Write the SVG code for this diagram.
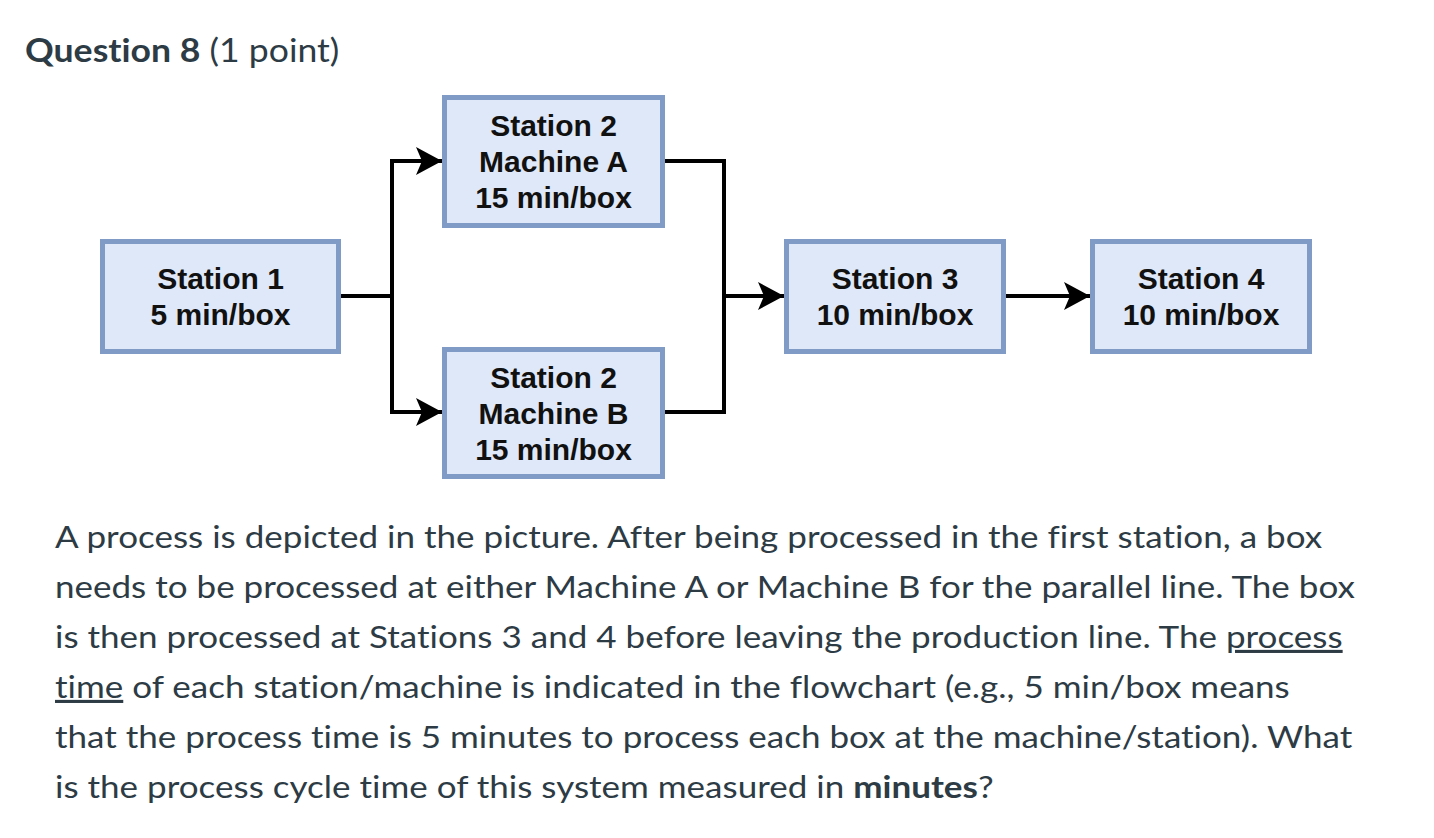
<svg xmlns="http://www.w3.org/2000/svg" width="1434" height="838" viewBox="0 0 1434 838">
<defs>
<style>
.box{fill:#dfe8f8;stroke:#7f9bc6;stroke-width:5}
.lbl{font-family:"Liberation Sans",Arial,sans-serif;font-weight:bold;font-size:30px;fill:#111;text-anchor:middle}
.con{fill:none;stroke:#000;stroke-width:4}
.body{font-family:Lato,"Open Sans",sans-serif;font-size:31px;fill:#2d3b45;font-variant-ligatures:none}
.title{font-family:Lato,"Open Sans",sans-serif;font-size:32px;fill:#2d3b45;font-variant-ligatures:none}
</style>
<marker id="arr" markerUnits="userSpaceOnUse" markerWidth="32" markerHeight="32" viewBox="-28 -16 32 32" refX="0" refY="0" orient="auto">
<path d="M0,0 L-26,-14 L-20,0 L-26,14 Z" fill="#000"/>
</marker>
</defs>
<rect width="1434" height="838" fill="#fff"/>
<g transform="translate(25,0) scale(1.113,1)">
<text class="title" x="0" y="62"><tspan font-weight="bold">Question 8</tspan> (1 point)</text>
</g>
<g id="connectors">
<path class="con" d="M341,296 H392"/>
<path class="con" d="M392,161 V412"/>
<path class="con" d="M390,161 H442" marker-end="url(#arr)"/>
<path class="con" d="M390,412 H442" marker-end="url(#arr)"/>
<path class="con" d="M665,161 H724 V412 H665"/>
<path class="con" d="M724,296 H784" marker-end="url(#arr)"/>
<path class="con" d="M1006,296 H1090" marker-end="url(#arr)"/>
</g>
<g id="station1">
<rect class="box" x="102.5" y="241.5" width="236" height="110"/>
<text class="lbl" x="220.5" y="289">Station 1</text>
<text class="lbl" x="220.5" y="325">5 min/box</text>
</g>
<g id="machineA">
<rect class="box" x="444.5" y="97.5" width="218" height="128"/>
<text class="lbl" x="553.5" y="136">Station 2</text>
<text class="lbl" x="553.5" y="172">Machine A</text>
<text class="lbl" x="553.5" y="208">15 min/box</text>
</g>
<g id="machineB">
<rect class="box" x="444.5" y="349.5" width="218" height="127"/>
<text class="lbl" x="553.5" y="388">Station 2</text>
<text class="lbl" x="553.5" y="424">Machine B</text>
<text class="lbl" x="553.5" y="460">15 min/box</text>
</g>
<g id="station3">
<rect class="box" x="786.5" y="241.5" width="217" height="110"/>
<text class="lbl" x="895" y="289">Station 3</text>
<text class="lbl" x="895" y="325">10 min/box</text>
</g>
<g id="station4">
<rect class="box" x="1092.5" y="241.5" width="217" height="110"/>
<text class="lbl" x="1201" y="289">Station 4</text>
<text class="lbl" x="1201" y="325">10 min/box</text>
</g>
<g id="question" transform="translate(55,0) scale(1.13,1)">
<text class="body" x="0" y="548">A process is depicted in the picture. After being processed in the first station, a box</text>
<text class="body" x="0" y="598">needs to be processed at either Machine A or Machine B for the parallel line. The box</text>
<text class="body" x="0" y="648">is then processed at Stations 3 and 4 before leaving the production line. The <tspan text-decoration="underline">process</tspan></text>
<text class="body" x="0" y="698"><tspan text-decoration="underline">time</tspan> of each station/machine is indicated in the flowchart (e.g., 5 min/box means</text>
<text class="body" x="0" y="748">that the process time is 5 minutes to process each box at the machine/station). What</text>
<text class="body" x="0" y="798">is the process cycle time of this system measured in <tspan font-weight="bold">minutes</tspan>?</text>
</g>
</svg>
